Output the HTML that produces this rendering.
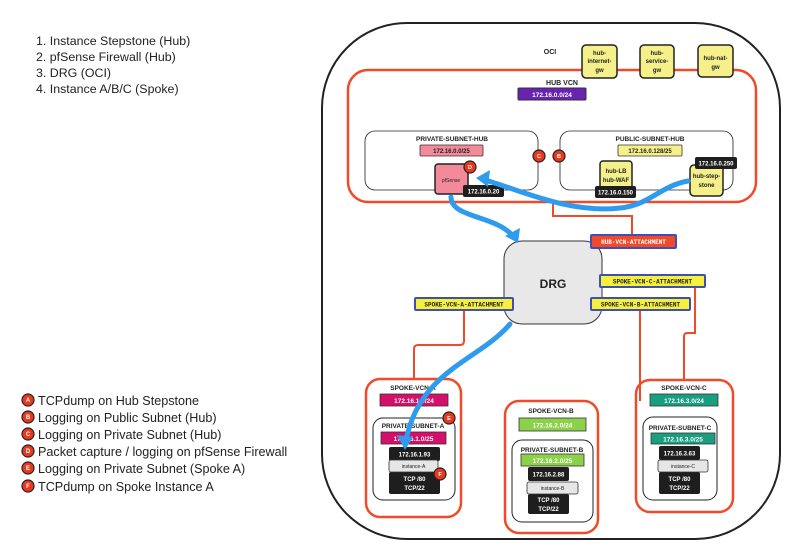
<!DOCTYPE html>
<html><head><meta charset="utf-8"><style>
html,body{margin:0;padding:0;background:#fff;overflow:hidden;width:800px;height:557px;}
svg{display:block;font-family:"Liberation Sans",sans-serif;}
.b{font-weight:bold;}
</style></head><body>
<svg width="800" height="557" viewBox="0 0 800 557" xmlns="http://www.w3.org/2000/svg">
<g font-size="12.4" fill="#222">
<text x="36" y="45">1. Instance Stepstone (Hub)</text>
<text x="36" y="61">2. pfSense Firewall (Hub)</text>
<text x="36" y="77">3. DRG (OCI)</text>
<text x="36" y="93">4. Instance A/B/C (Spoke)</text>
</g>
<g font-size="12.6" fill="#222">
<g font-size="6" font-weight="bold" text-anchor="middle">
<circle cx="28" cy="400" r="6" fill="#e8391e" stroke="#222" stroke-width="1.2"/><text x="28" y="402" fill="#fff">A</text>
<circle cx="28" cy="417" r="6" fill="#e8391e" stroke="#222" stroke-width="1.2"/><text x="28" y="419" fill="#fff">B</text>
<circle cx="28" cy="434" r="6" fill="#e8391e" stroke="#222" stroke-width="1.2"/><text x="28" y="436" fill="#fff">C</text>
<circle cx="28" cy="451" r="6" fill="#e8391e" stroke="#222" stroke-width="1.2"/><text x="28" y="453" fill="#fff">D</text>
<circle cx="28" cy="468" r="6" fill="#e8391e" stroke="#222" stroke-width="1.2"/><text x="28" y="470" fill="#fff">E</text>
<circle cx="28" cy="486" r="6" fill="#e8391e" stroke="#222" stroke-width="1.2"/><text x="28" y="488" fill="#fff">F</text>
</g>
<text x="38" y="405">TCPdump on Hub Stepstone</text>
<text x="38" y="422">Logging on Public Subnet (Hub)</text>
<text x="38" y="439">Logging on Private Subnet (Hub)</text>
<text x="38" y="456">Packet capture / logging on pfSense Firewall</text>
<text x="38" y="473">Logging on Private Subnet (Spoke A)</text>
<text x="38" y="491">TCPdump on Spoke Instance A</text>
</g>

<rect x="322" y="23" width="458" height="516" rx="85" fill="none" stroke="#222" stroke-width="2"/>
<text x="550" y="54" font-size="7" class="b" text-anchor="middle" fill="#222">OCI</text>

<rect x="348" y="70" width="408" height="132" rx="20" fill="none" stroke="#f04a2a" stroke-width="2.5"/>
<text x="562" y="85" font-size="7" class="b" text-anchor="middle" fill="#222">HUB VCN</text>
<rect x="518" y="88" width="68" height="12" rx="1" fill="#6a22b0" stroke="#333"/>
<text x="552" y="97" font-size="6.5" class="b" text-anchor="middle" fill="#fff">172.16.0.0/24</text>

<g font-size="6" class="b" text-anchor="middle" fill="#222">
<rect x="582" y="45" width="35" height="33" rx="4" fill="#f5f08a" stroke="#222" stroke-width="1.5"/>
<text x="599.5" y="55">hub-</text><text x="599.5" y="63">internet-</text><text x="599.5" y="72">gw</text>
<rect x="640" y="45" width="34" height="33" rx="4" fill="#f5f08a" stroke="#222" stroke-width="1.5"/>
<text x="657" y="55">hub-</text><text x="657" y="63">service-</text><text x="657" y="72">gw</text>
<rect x="698" y="45" width="35" height="32" rx="4" fill="#f5f08a" stroke="#222" stroke-width="1.5"/>
<text x="715.5" y="60">hub-nat-</text><text x="715.5" y="69">gw</text>
</g>

<rect x="365" y="131" width="173" height="59" rx="10" fill="#fff" stroke="#222" stroke-width="0.8"/>
<text x="452" y="141" font-size="6.5" class="b" text-anchor="middle" fill="#222">PRIVATE-SUBNET-HUB</text>
<rect x="420" y="145" width="63" height="11" rx="1" fill="#f28a9a" stroke="#333" stroke-width="0.8"/>
<text x="451.5" y="153" font-size="6" class="b" text-anchor="middle" fill="#222">172.16.0.0/25</text>
<rect x="560" y="131" width="173" height="59" rx="10" fill="#fff" stroke="#222" stroke-width="0.8"/>
<text x="650" y="141" font-size="6.5" class="b" text-anchor="middle" fill="#222">PUBLIC-SUBNET-HUB</text>
<rect x="618" y="145" width="64" height="11" rx="1" fill="#f5f08a" stroke="#333" stroke-width="0.8"/>
<text x="650" y="153" font-size="6" class="b" text-anchor="middle" fill="#222">172.16.0.128/25</text>

<g font-size="5.5" font-weight="bold" text-anchor="middle" fill="#fff">
<circle cx="539" cy="156" r="6" fill="#e8391e" stroke="#222" stroke-width="1.2"/><text x="539" y="158">C</text>
<circle cx="559" cy="156" r="6" fill="#e8391e" stroke="#222" stroke-width="1.2"/><text x="559" y="158">B</text>
</g>

<g fill="none" stroke="#f04a2a" stroke-width="2">
<path d="M553 202 V216 H632 V235"/>
<path d="M464 310 V341 Q464 345 460 345 H418 Q414 345 414 349 V379"/>
<path d="M640 310 V401"/>
<path d="M695 287 V333 H687 Q684 333 684 337 V380"/>
</g>

<rect x="435" y="164" width="33" height="30" rx="3" fill="#f28a9a" stroke="#222" stroke-width="1.5"/>
<text x="451" y="182" font-size="5" text-anchor="middle" fill="#222">pfSense</text>
<rect x="463" y="185" width="41" height="12" rx="2" fill="#1e1e1e"/>
<text x="483.5" y="193.5" font-size="6" class="b" text-anchor="middle" fill="#fff">172.16.0.20</text>
<circle cx="470" cy="167" r="6" fill="#e8391e" stroke="#222" stroke-width="1.2"/><text x="470" y="169" font-size="5.5" font-weight="bold" text-anchor="middle" fill="#fff">D</text>

<rect x="600" y="161" width="32" height="29" rx="3" fill="#f5f08a" stroke="#222" stroke-width="1.5"/>
<text x="616" y="173" font-size="6" class="b" text-anchor="middle" fill="#222">hub-LB</text>
<text x="616" y="182" font-size="6" class="b" text-anchor="middle" fill="#222">hub-WAF</text>
<rect x="595" y="186" width="41" height="12" rx="2" fill="#1e1e1e"/>
<text x="615.5" y="194.5" font-size="6" class="b" text-anchor="middle" fill="#fff">172.16.0.150</text>

<rect x="690" y="165" width="33" height="31" rx="4" fill="#f5f08a" stroke="#222" stroke-width="1.5"/>
<text x="706.5" y="178" font-size="6" class="b" text-anchor="middle" fill="#222">hub-step-</text>
<text x="706.5" y="187" font-size="6" class="b" text-anchor="middle" fill="#222">stone</text>
<rect x="695" y="157" width="42" height="12" rx="2" fill="#1e1e1e"/>
<text x="716" y="165.5" font-size="6" class="b" text-anchor="middle" fill="#fff">172.16.0.250</text>

<rect x="504" y="241" width="98" height="83" rx="18" fill="#e8e8e8" stroke="#333" stroke-width="1"/>
<text x="553" y="288" font-size="12" class="b" text-anchor="middle" fill="#222">DRG</text>

<g font-size="6" class="b" text-anchor="middle" font-family="Liberation Mono,monospace">
<rect x="591" y="235" width="85" height="13" rx="1" fill="#f04a2a" stroke="#4050b0" stroke-width="2"/>
<text x="633.5" y="244" fill="#fff">HUB-VCN-ATTACHMENT</text>
<rect x="600" y="275" width="105" height="12" rx="1" fill="#f5f03a" stroke="#4050b0" stroke-width="2"/>
<text x="652.5" y="283.5" fill="#222">SPOKE-VCN-C-ATTACHMENT</text>
<rect x="591" y="298" width="99" height="12" rx="1" fill="#f5f03a" stroke="#4050b0" stroke-width="2"/>
<text x="640.5" y="306.5" fill="#222">SPOKE-VCN-B-ATTACHMENT</text>
<rect x="415" y="298" width="98" height="12" rx="1" fill="#f5f03a" stroke="#4050b0" stroke-width="2"/>
<text x="464" y="306.5" fill="#222">SPOKE-VCN-A-ATTACHMENT</text>
</g>

<g fill="none" stroke="#f04a2a" stroke-width="2.5">
<rect x="366" y="379" width="95" height="138" rx="14"/>
<rect x="505" y="401" width="93" height="132" rx="14"/>
<rect x="636" y="380" width="97" height="132" rx="14"/>
</g>
<g fill="#fff" stroke="#222" stroke-width="1">
<rect x="373" y="418" width="82" height="82" rx="10"/>
<rect x="512" y="440" width="81" height="82" rx="10"/>
<rect x="643" y="417" width="74" height="83" rx="10"/>
</g>
<g font-size="6.5" class="b" text-anchor="middle" fill="#222">
<text x="413" y="390">SPOKE-VCN-A</text>
<text x="413" y="428">PRIVATE-SUBNET-A</text>
<text x="551" y="413">SPOKE-VCN-B</text>
<text x="552" y="452">PRIVATE-SUBNET-B</text>
<text x="684" y="390">SPOKE-VCN-C</text>
<text x="680" y="430">PRIVATE-SUBNET-C</text>
</g>
<g stroke="#333" stroke-width="0.8">
<rect x="380" y="394" width="68" height="12" fill="#d5106a"/>
<rect x="381" y="432" width="65" height="12" fill="#d5106a"/>
<rect x="519" y="418" width="67" height="13" fill="#8bd14a"/>
<rect x="521" y="454" width="63" height="12" fill="#8bd14a"/>
<rect x="650" y="394" width="68" height="12" fill="#1a9e80"/>
<rect x="651" y="433" width="64" height="11" fill="#1a9e80"/>
</g>
<g font-size="6.5" class="b" text-anchor="middle" fill="#fff">
<text x="414" y="403">172.16.1.0/24</text>
<text x="413.5" y="441">172.16.1.0/25</text>
<text x="552.5" y="427.5">172.16.2.0/24</text>
<text x="552.5" y="463">172.16.2.0/25</text>
<text x="684" y="403">172.16.3.0/24</text>
<text x="683" y="441.5">172.16.3.0/25</text>
</g>
<g fill="#1e1e1e">
<rect x="389" y="447" width="51" height="14" rx="2"/>
<rect x="389" y="472" width="51" height="22" rx="2"/>
<rect x="528" y="467" width="41" height="14" rx="2"/>
<rect x="528" y="494" width="41" height="20" rx="2"/>
<rect x="659" y="446" width="41" height="14" rx="2"/>
<rect x="659" y="472" width="41" height="22" rx="2"/>
</g>
<g fill="#e6e6e6" stroke="#333" stroke-width="0.8">
<rect x="389" y="460" width="49" height="12" rx="2"/>
<rect x="527" y="482" width="51" height="12" rx="2"/>
<rect x="658" y="460" width="50" height="12" rx="2"/>
</g>
<g font-size="6" class="b" text-anchor="middle" fill="#fff">
<text x="414.5" y="456.5">172.16.1.93</text>
<text x="414.5" y="481">TCP /80</text><text x="414.5" y="490">TCP/22</text>
<text x="548.5" y="476.5">172.16.2.88</text>
<text x="548.5" y="502">TCP /80</text><text x="548.5" y="511">TCP/22</text>
<text x="679.5" y="455.5">172.16.3.63</text>
<text x="679.5" y="481">TCP /80</text><text x="679.5" y="490">TCP/22</text>
</g>
<g font-size="5" text-anchor="middle" fill="#222">
<text x="413.5" y="468">instance-A</text>
<text x="552.5" y="490">instance-B</text>
<text x="683" y="468">instance-C</text>
</g>
<g font-size="5.5" font-weight="bold" text-anchor="middle" fill="#fff">
<circle cx="449" cy="418" r="6" fill="#e8391e" stroke="#222" stroke-width="1.2"/><text x="449" y="420">E</text>
<circle cx="440" cy="474" r="6" fill="#e8391e" stroke="#222" stroke-width="1.2"/><text x="440" y="476">F</text>
</g>

<g fill="none" stroke="#2e9bef" stroke-width="5" stroke-linecap="round">
<path d="M688 181 C660 186 650 205 620 208 C570 214 520 190 485 180"/>
<path d="M451 197 C451 218 495 215 513 236"/>
<path d="M510 324 C480 360 420 370 406 440"/>
</g>
<g fill="#2e9bef">
<polygon points="476,178 490,170 488,187"/>
<polygon points="518,243 505,236 520,228"/>
<polygon points="405,450 397,435 413,437"/>
</g>
</svg>
</body></html>
